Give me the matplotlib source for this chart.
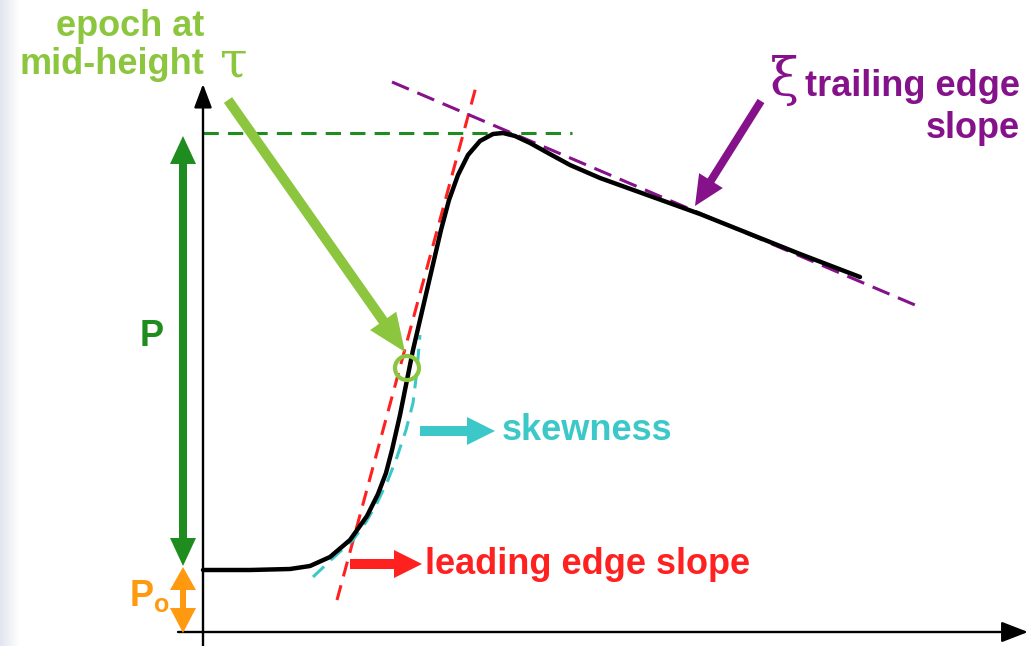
import matplotlib.pyplot as plt
import numpy as np

# waveform (pixel coords, y grows downward)
pulse_x = [203, 250, 290, 310, 330, 350, 367, 378, 386, 392, 400, 407, 413, 420, 427,
           434, 441, 449, 458, 468, 480, 493, 503, 515, 530, 548, 570, 600, 650, 700, 750, 800, 860]
pulse_y = [570, 570, 569, 566, 557, 540, 516, 494, 473, 450, 415, 380, 350, 320, 290,
           260, 230, 200, 175, 155, 141, 134, 133, 136, 143, 153, 165, 178, 196, 214, 234, 254, 277]

# skewed fit (dashed cyan)
skew_x = [313, 333, 353, 366, 377, 388, 397, 406, 413, 417, 420]
skew_y = [577, 558, 540, 522, 503, 480, 457, 430, 403, 370, 335]

# tangent lines (end points)
lead_x, lead_y = [337, 477], [600, 83]
trail_x, trail_y = [392, 915], [82, 305]

peak_y = 133
axis_y = 632
axis_x = 203

lime = '#8CC63F'
dgreen = '#1E8C1E'
orange = '#FF9A10'
red = '#FF2020'
cyan = '#3CC8C8'
purple = '#85128A'

plt.rcParams['font.family'] = ['Liberation Sans', 'DejaVu Sans']
FS = 26

fig = plt.figure(figsize=(10.3, 6.46), dpi=100)
ax = fig.add_axes([0, 0, 1, 1])
ax.set_xlim(0, 1030)
ax.set_ylim(646, 0)
ax.axis('off')

# faint band on the left edge
grad = np.linspace(0, 1, 20)[None, :]
ax.imshow(grad, extent=(0, 20, 646, 0), cmap=plt.matplotlib.colors.LinearSegmentedColormap.from_list(
    'edge', ['#E2E5EE', '#FFFFFF']), aspect='auto', zorder=0)


def arrow(x0, y0, x1, y1, color, w=10, hw=28, hl=28):
    ax.arrow(x0, y0, x1 - x0, y1 - y0, width=w, head_width=hw, head_length=hl,
             length_includes_head=True, color=color, lw=0, zorder=4)


# axes of the sketch
ax.annotate('', xy=(axis_x, 84), xytext=(axis_x, 646),
            arrowprops=dict(arrowstyle='-|>,head_width=0.3,head_length=0.8', lw=1.7,
                            color='black', mutation_scale=18, shrinkA=0, shrinkB=0))
ax.annotate('', xy=(1028, axis_y), xytext=(178, axis_y),
            arrowprops=dict(arrowstyle='-|>,head_width=0.35,head_length=0.9', lw=1.7,
                            color='black', mutation_scale=18, shrinkA=0, shrinkB=0))

# dashed guides
ax.plot([axis_x, 572], [peak_y, peak_y], ls=(0, (5, 3)), color=dgreen, lw=2.2)
ax.plot(lead_x, lead_y, ls=(0, (5, 3)), color=red, lw=2.2)
ax.plot(skew_x, skew_y, ls=(0, (5, 3)), color=cyan, lw=2.2)
ax.plot(trail_x, trail_y, ls=(0, (6, 3)), color=purple, lw=2.2)

# the pulse
ax.plot(pulse_x, pulse_y, color='black', lw=3.2, solid_capstyle='round',
        solid_joinstyle='round', zorder=5)

# mid-height marker
ax.add_patch(plt.Circle((407, 368), 12, fill=False, ec=lime, lw=3, zorder=6))

# tau arrow
arrow(228, 100, 405, 352, lime, w=10, hw=32, hl=38)
ax.text(130, 26, 'epoch at', color=lime, fontsize=FS, fontweight='bold', ha='center', va='center')
ax.text(112, 64, 'mid-height', color=lime, fontsize=FS, fontweight='bold', ha='center', va='center')
ax.text(234, 62, 'τ', color=lime, fontsize=36, family='DejaVu Serif', ha='center', va='center')

# amplitude arrows
mid = 350
arrow(183, mid, 183, 136, dgreen, w=8, hw=26, hl=28)
arrow(183, mid, 183, 566, dgreen, w=8, hw=26, hl=28)
ax.text(152, 336, 'P', color=dgreen, fontsize=FS, fontweight='bold', ha='center', va='center')
arrow(183, 600, 183, 567, orange, w=6, hw=26, hl=23)
arrow(183, 600, 183, 633, orange, w=6, hw=26, hl=25)
ax.text(142, 597, 'P', color=orange, fontsize=FS, fontweight='bold', ha='center', va='center')
ax.text(162, 605, 'o', color=orange, fontsize=18, fontweight='bold', ha='center', va='center')

# leading edge
arrow(350, 564, 422, 564, red)
ax.text(425, 565, 'leading edge slope', color=red, fontsize=FS, fontweight='bold',
        ha='left', va='center')

# skewness
arrow(420, 431, 495, 431, cyan)
ax.text(502, 430, 'skewness', color=cyan, fontsize=FS, fontweight='bold',
        ha='left', va='center')

# trailing edge
arrow(761, 101, 695, 206, purple, w=8, hw=28, hl=30)
ax.text(784, 80, 'ξ', color=purple, fontsize=38, family='DejaVu Serif', ha='center', va='center')
ax.text(1020, 86, 'trailing edge', color=purple, fontsize=FS, fontweight='bold',
        ha='right', va='center')
ax.text(1020, 128, 'slope', color=purple, fontsize=FS, fontweight='bold',
        ha='right', va='center')

fig.savefig('out.png', dpi=100)
